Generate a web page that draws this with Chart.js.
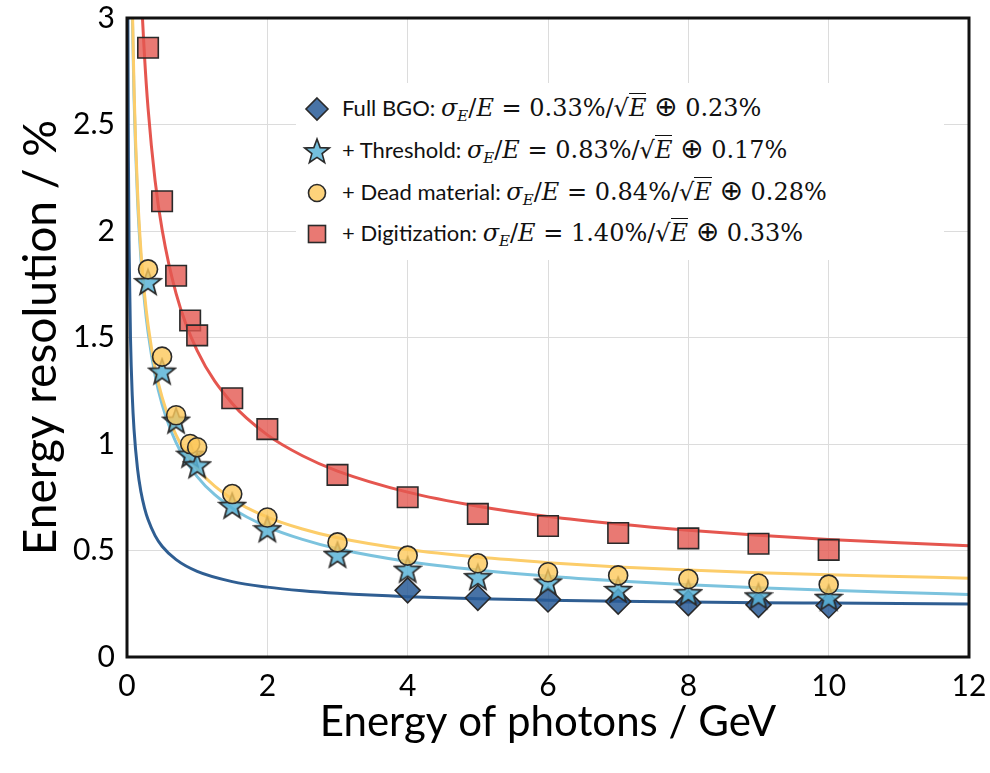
<!DOCTYPE html>
<html>
<head>
<meta charset="utf-8">
<script src="https://cdn.jsdelivr.net/npm/chart.js@4.4.1/dist/chart.umd.min.js"></script>
<style>
  html, body { margin: 0; padding: 0; background: #fff; }
  #wrap { position: relative; width: 990px; height: 773px; }
  #c { display: block; }
  #legend { position: absolute; left: 296px; top: 83px; width: 648px; height: 177px; background: #fff; }
  .row { position: absolute; left: 0; height: 30px; white-space: nowrap; }
  .row svg { position: absolute; left: 6px; top: 1px; }
  .row .txt { position: absolute; left: 46px; top: 0; line-height: 30px; font-family: Lato, "Open Sans", sans-serif; font-size: 22px; color: #111; }
  .m { font-family: "DejaVu Serif", "Liberation Serif", serif; font-size: 24px; }
  .m i { font-style: italic; }
  .m sub { font-size: 15px; vertical-align: -5px; line-height: 0; }
  .ov { border-top: 1.3px solid #111; }
  .op { font-family: "DejaVu Sans", sans-serif; font-size: 28px; line-height: 0; }
</style>
</head>
<body>
<div id="wrap">
  <canvas id="c" width="990" height="773"></canvas>
  <div id="legend"></div>
</div>
<script>
// ---------------- data ----------------
const energies = [0.3, 0.5, 0.7, 0.9, 1, 1.5, 2, 3, 4, 5, 6, 7, 8, 9, 10];
const bgoEnergies = [4, 5, 6, 7, 8, 9, 10];

const fullBGO      = [0.313, 0.278, 0.27, 0.26, 0.253, 0.245, 0.242];
const threshold    = [1.76, 1.34, 1.11, 0.95, 0.90, 0.71, 0.60, 0.48, 0.41, 0.375, 0.35, 0.315, 0.30, 0.285, 0.278];
const deadMaterial = [1.82, 1.41, 1.135, 1.00, 0.985, 0.765, 0.655, 0.538, 0.476, 0.44, 0.398, 0.383, 0.366, 0.345, 0.34];
const digitization = [2.86, 2.14, 1.79, 1.58, 1.51, 1.215, 1.07, 0.855, 0.75, 0.672, 0.615, 0.582, 0.557, 0.532, 0.503];

// fit curves
const fitE = [0.01, 0.02, 0.03, 0.05, 0.075, 0.1, 0.15, 0.2, 0.25, 0.3, 0.4, 0.5, 0.7, 1, 1.5, 2, 2.5, 3, 4, 5, 6, 7, 8, 9, 10, 11, 12];
const fitFullBGO = [3.308, 2.345, 1.919, 1.494, 1.227, 1.069, 0.883, 0.773, 0.699, 0.645, 0.570, 0.520, 0.457, 0.402, 0.354, 0.328, 0.311, 0.299, 0.283, 0.273, 0.267, 0.262, 0.258, 0.255, 0.253, 0.251, 0.249];
const fitThreshold = [null, null, null, 3.716, 3.035, 2.630, 2.150, 1.864, 1.669, 1.525, 1.323, 1.186, 1.006, 0.847, 0.699, 0.611, 0.552, 0.508, 0.448, 0.408, 0.379, 0.357, 0.339, 0.325, 0.313, 0.303, 0.294];
const fitDead      = [null, null, null, 3.767, 3.080, 2.671, 2.187, 1.899, 1.703, 1.559, 1.357, 1.220, 1.042, 0.885, 0.741, 0.657, 0.601, 0.560, 0.505, 0.469, 0.443, 0.423, 0.408, 0.396, 0.386, 0.378, 0.370];
const fitDigit     = [null, null, null, null, null, 4.439, 3.630, 3.148, 2.819, 2.577, 2.238, 2.007, 1.706, 1.438, 1.190, 1.043, 0.945, 0.873, 0.774, 0.708, 0.660, 0.624, 0.595, 0.572, 0.552, 0.536, 0.522];

const seriesNames = ["Full BGO:", "+ Threshold:", "+ Dead material:", "+ Digitization:"];
const stochTerms  = ["0.33%", "0.83%", "0.84%", "1.40%"];
const constTerms  = ["0.23%", "0.17%", "0.28%", "0.33%"];

const xTicks = { min: 0, max: 12, step: 2 };
const yTicks = { min: 0, max: 3, step: 0.5 };

// ---------------- styles ----------------
const EDGE = '#2a2a2a';
const colBGO   = { fill: 'rgba(40,90,150,0.85)',  line: '#2f5e92' };
const colThr   = { fill: 'rgba(90,180,215,0.85)', line: '#7cc3de' };
const colDead  = { fill: 'rgba(252,200,90,0.8)',  line: '#fccd6a' };
const colDig   = { fill: 'rgba(228,87,80,0.8)',   line: '#e5564f' };

function starCanvas(size, outer, inner, fill, stroke) {
  const c = document.createElement('canvas');
  c.width = size; c.height = size;
  const ctx = c.getContext('2d');
  const cx = size / 2, cy = size / 2 + 1;
  ctx.beginPath();
  for (let i = 0; i < 10; i++) {
    const r = i % 2 === 0 ? outer : inner;
    const a = -Math.PI / 2 + i * Math.PI / 5;
    const px = cx + r * Math.cos(a), py = cy + r * Math.sin(a);
    if (i === 0) ctx.moveTo(px, py); else ctx.lineTo(px, py);
  }
  ctx.closePath();
  ctx.fillStyle = fill; ctx.fill();
  ctx.lineWidth = 1.7; ctx.strokeStyle = stroke; ctx.stroke();
  return c;
}
const starImg = starCanvas(30, 13.5, 5.6, colThr.fill, EDGE);

const pts = (xs, ys) => xs.map((x, i) => ({ x: x, y: ys[i] }));

const lineDS = (ys, color, order) => ({
  type: 'line', data: pts(fitE, ys), borderColor: color, borderWidth: 3,
  pointRadius: 0, fill: false, cubicInterpolationMode: 'monotone', order: order, showLine: true
});

const frame = {
  id: 'frame',
  afterDatasetsDraw(chart) {
    const a = chart.chartArea, ctx = chart.ctx;
    ctx.save();
    ctx.strokeStyle = '#111';
    ctx.lineWidth = 3;
    ctx.strokeRect(a.left, a.top, a.right - a.left, a.bottom - a.top);
    ctx.restore();
  }
};

const fmt = v => String(Number(v.toFixed(2)));

new Chart(document.getElementById('c'), {
  type: 'scatter',
  data: {
    datasets: [
      { label: 'deadMaterial', data: pts(energies, deadMaterial), pointStyle: 'circle', pointRadius: 9.5,
        backgroundColor: colDead.fill, borderColor: EDGE, borderWidth: 1.6, order: 0 },
      { label: 'threshold', data: pts(energies, threshold), pointStyle: starImg, pointRadius: 13,
        backgroundColor: colThr.fill, borderColor: EDGE, order: 1 },
      { label: 'fullBGO', data: pts(bgoEnergies, fullBGO), pointStyle: 'rectRot', pointRadius: 12.5,
        backgroundColor: colBGO.fill, borderColor: EDGE, borderWidth: 1.6, order: 2 },
      { label: 'digitization', data: pts(energies, digitization), pointStyle: 'rect', pointRadius: 14.5,
        backgroundColor: colDig.fill, borderColor: EDGE, borderWidth: 1.6, order: 3 },
      lineDS(fitDigit, colDig.line, 4),
      lineDS(fitDead, colDead.line, 5),
      lineDS(fitThreshold, colThr.line, 6),
      lineDS(fitFullBGO, colBGO.line, 7)
    ]
  },
  options: {
    responsive: false,
    animation: false,
    events: [],
    layout: { autoPadding: false, padding: { top: 18, right: 21, left: 0, bottom: 0 } },
    plugins: { legend: { display: false }, tooltip: { enabled: false } },
    scales: {
      x: {
        type: 'linear', min: xTicks.min, max: xTicks.max,
        ticks: { stepSize: xTicks.step, color: '#000', font: { family: 'Lato', size: 30 }, padding: 11, callback: fmt },
        grid: { color: '#dcdcdc', lineWidth: 1, drawTicks: false },
        border: { display: false },
        title: { display: true, text: 'Energy of photons / GeV', color: '#000',
                 font: { family: 'Lato', size: 42, lineHeight: 1.2 }, padding: { top: 0, bottom: 25 } },
        afterFit(s) { s.height = 116; s.paddingLeft = 0; s.paddingRight = 0; }
      },
      y: {
        type: 'linear', min: yTicks.min, max: yTicks.max,
        ticks: { stepSize: yTicks.step, color: '#000', font: { family: 'Lato', size: 30 }, padding: 12, callback: fmt },
        grid: { color: '#dcdcdc', lineWidth: 1, drawTicks: false },
        border: { display: false },
        title: { display: true, text: 'Energy resolution / %', color: '#000',
                 font: { family: 'Lato', size: 46, lineHeight: 1.2 }, padding: { top: 14, bottom: 0 } },
        afterFit(s) { s.width = 127; s.paddingTop = 0; s.paddingBottom = 0; }
      }
    }
  },
  plugins: [frame]
});

// ---------------- legend (HTML text) ----------------
const icons = [
  '<svg width="30" height="30"><polygon points="15,4 26,15 15,26 4,15" fill="' + colBGO.fill + '" stroke="' + EDGE + '" stroke-width="1.6"/></svg>',
  (function () {
    let p = [];
    for (let i = 0; i < 10; i++) {
      const r = i % 2 === 0 ? 13 : 5.4, a = -Math.PI / 2 + i * Math.PI / 5;
      p.push((15 + r * Math.cos(a)).toFixed(2) + ',' + (16 + r * Math.sin(a)).toFixed(2));
    }
    return '<svg width="30" height="30"><polygon points="' + p.join(' ') + '" fill="' + colThr.fill + '" stroke="' + EDGE + '" stroke-width="1.6"/></svg>';
  })(),
  '<svg width="30" height="30"><circle cx="15" cy="15" r="8.5" fill="' + colDead.fill + '" stroke="' + EDGE + '" stroke-width="1.6"/></svg>',
  '<svg width="30" height="30"><rect x="6.5" y="6.5" width="17" height="17" fill="' + colDig.fill + '" stroke="' + EDGE + '" stroke-width="1.6"/></svg>'
];
const rowTops = [10, 52, 94, 135];
const leg = document.getElementById('legend');
seriesNames.forEach((name, i) => {
  const row = document.createElement('div');
  row.className = 'row';
  row.style.top = rowTops[i] + 'px';
  row.innerHTML = icons[i] +
    '<span class="txt">' + name + ' <span class="m"><i>σ</i><sub><i>E</i></sub>/<i>E</i> = ' +
    stochTerms[i] + '/√<span class="ov"><i>E</i></span> <span class="op">⊕</span> ' + constTerms[i] + '</span></span>';
  leg.appendChild(row);
});
</script>
</body>
</html>
